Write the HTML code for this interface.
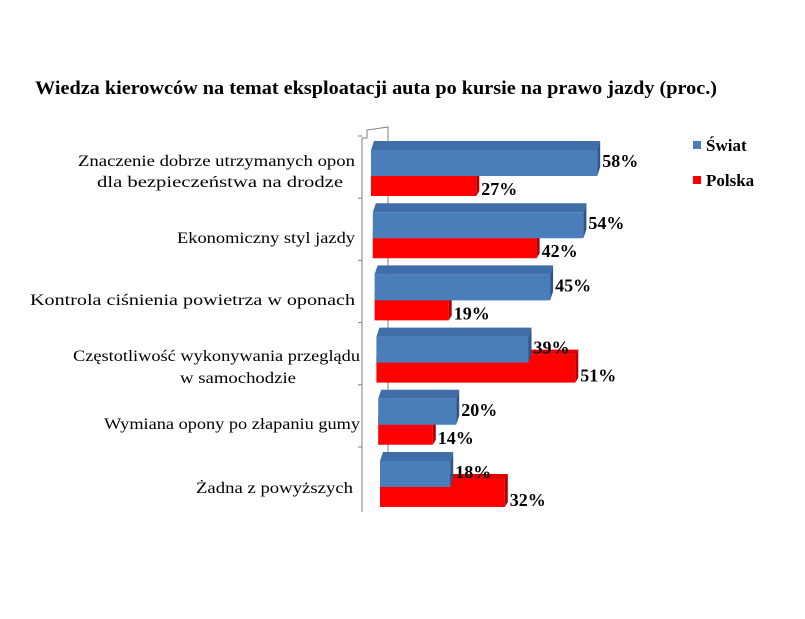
<!DOCTYPE html>
<html><head><meta charset="utf-8"><style>
body{margin:0;background:#fff;width:805px;height:619px;overflow:hidden}
svg{display:block;font-family:"Liberation Serif",serif}
</style></head><body>
<svg id="c" width="805" height="619">
<text x="35" y="94" font-size="19" font-weight="bold" textLength="682" lengthAdjust="spacingAndGlyphs">Wiedza kierowców na temat eksploatacji auta po kursie na prawo jazdy (proc.)</text>
<polyline points="362,512 362,138 367,138 367,130 388,127 388,500" fill="none" stroke="#808080" stroke-width="1"/>
<g>
<rect x="693" y="141" width="8" height="8" fill="#4a7ebb"/>
<text x="706" y="151" font-size="17" font-weight="bold">Świat</text>
<rect x="693" y="176" width="8" height="8" fill="#ff0000"/>
<text x="706" y="186" font-size="17" font-weight="bold">Polska</text>
</g>
<g id="bars"></g>
<g id="labels"></g>
</svg>
<script>
const categories=[["Znaczenie dobrze utrzymanych opon","dla bezpieczeństwa na drodze"],["Ekonomiczny styl jazdy"],["Kontrola ciśnienia powietrza w oponach"],["Częstotliwość wykonywania przeglądu","w samochodzie"],["Wymiana opony po złapaniu gumy"],["Żadna z powyższych"]];
const swiat=[58,54,45,39,20,18];
const polska=[27,42,19,51,14,32];
// label layout: [x-left, baseline-y, width] per line
const labelBoxes=[[[78,166,277],[97,187,246]],[[177,243,178]],[[30,305,325]],[[73,361,287],[180,383,116]],[[104,429,256]],[[196,493,157]]];
const NS="http://www.w3.org/2000/svg";
const g=document.getElementById('bars');
const gl=document.getElementById('labels');
const x0=i=>371+i*1.8;
const xs=(i,v)=>x0(i)+v*3.9;
const gy=i=>141+i*62.2;
function mk(p,t,a){const e=document.createElementNS(NS,t);for(const k in a)e.setAttribute(k,a[k]);p.appendChild(e);return e;}
function bar(i,v,y,h,d,front,top,side,name){
 const xa=x0(i),xb=xs(i,v);
 let e=mk(g,'polygon',{points:`${xa},${y} ${xb},${y} ${xb},${y+h} ${xa},${y+h}`,fill:front});
 
 e=mk(g,'polygon',{points:`${xa},${y} ${xa+3},${y-d} ${xb+3},${y-d} ${xb},${y}`,fill:top});
 
 e=mk(g,'polygon',{points:`${xb},${y} ${xb+3},${y-d} ${xb+3},${y+h-d} ${xb},${y+h}`,fill:side});
 
}
categories.forEach((c,i)=>{
 const y=gy(i);
 bar(i,polska[i],y+27,28,5,'#ff0000','#e00000','#b00000','bar-polska-'+i);
 bar(i,swiat[i],y+9,26,9,'#4a7ebb','#3f6ea8','#2f5687','bar-swiat-'+i);
 let t=mk(gl,'text',{x:xs(i,swiat[i])+5,y:y+26,'font-size':18,'font-weight':'bold'});t.textContent=swiat[i]+'%';
 
 t=mk(gl,'text',{x:xs(i,polska[i])+5,y:y+54,'font-size':18,'font-weight':'bold'});t.textContent=polska[i]+'%';
 
 c.forEach((ln,j)=>{const b=labelBoxes[i][j];
  const l=mk(gl,'text',{x:b[0],y:b[1],'font-size':16,textLength:b[2],lengthAdjust:'spacingAndGlyphs'});l.textContent=ln;
  });
 const tk=mk(g,'line',{x1:358,y1:y-5,x2:362,y2:y-5,stroke:'#808080'});
 
});
</script>
</body></html>
